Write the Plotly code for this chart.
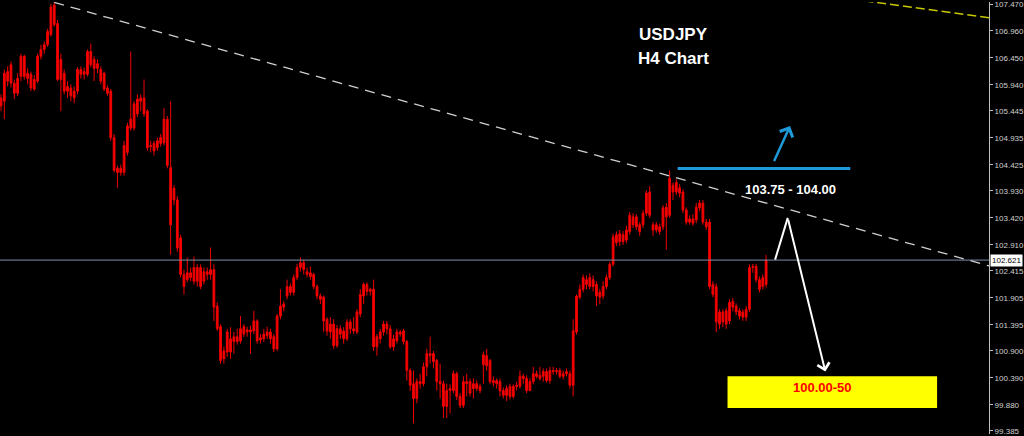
import plotly.graph_objects as go

# ---- candle data (USDJPY H4) ----
opens = [105.69, 105.63, 106.19, 105.97, 105.97, 105.78, 106.10, 106.48, 106.16, 106.14,
         105.86, 106.01, 106.48, 106.61, 106.70, 106.89, 107.45, 107.10, 106.04, 106.16,
         105.91, 105.88, 105.82, 105.82, 106.23, 106.14, 106.14, 106.57, 106.25, 106.34,
         106.23, 106.16, 105.88, 105.82, 104.94, 104.36, 104.28, 104.28, 104.66, 105.12,
         105.12, 105.39, 105.69, 105.69, 105.44, 104.77, 104.83, 104.75, 104.83, 104.84,
         105.29, 104.37, 103.76, 103.76, 103.04, 102.35, 102.25, 102.38, 102.22, 102.48,
         102.12, 102.40, 102.35, 102.35, 102.44, 101.75, 101.36, 100.75, 100.88, 101.13,
         101.08, 101.17, 101.09, 101.36, 101.26, 101.30, 101.28, 101.47, 101.11, 101.13,
         101.19, 101.26, 101.17, 100.94, 101.56, 101.73, 101.94, 102.12, 102.01, 102.29,
         102.48, 102.57, 102.40, 102.38, 102.35, 102.12, 101.94, 101.92, 101.50, 101.26,
         101.41, 101.00, 101.32, 101.28, 101.13, 101.45, 101.28, 101.26, 101.60, 101.94,
         102.16, 102.03, 102.07, 100.98, 101.13, 101.26, 101.41, 101.32, 100.98, 101.09,
         101.26, 101.28, 101.08, 100.53, 100.28, 100.00, 100.32, 100.28, 100.60, 100.85,
         100.85, 100.72, 100.32, 100.28, 99.85, 100.15, 100.15, 100.47, 100.04, 99.87,
         100.32, 100.32, 100.19, 100.28, 100.23, 100.64, 100.81, 100.72, 100.34, 100.34,
         100.32, 100.15, 100.06, 100.23, 100.04, 100.23, 100.23, 100.42, 100.38, 100.15,
         100.32, 100.47, 100.38, 100.42, 100.51, 100.34, 100.53, 100.51, 100.53, 100.42,
         100.47, 100.47, 100.25, 101.26, 101.92, 102.07, 102.25, 102.12, 102.25, 102.16,
         101.92, 101.94, 102.12, 102.29, 102.54, 103.10, 102.97, 103.10, 103.00, 103.16,
         103.44, 103.25, 103.29, 103.29, 103.51, 103.91, 103.29, 103.19, 103.25, 103.25,
         103.62, 103.47, 104.04, 103.91, 103.99, 103.91, 103.57, 103.34, 103.40, 103.38,
         103.61, 103.70, 103.34, 103.34, 102.16, 102.12, 101.41, 101.64, 101.41, 101.47,
         101.84, 101.75, 101.66, 101.54, 101.54, 101.69, 102.48, 102.50, 102.25, 102.12,
         102.16]
highs = [105.76, 106.23, 106.29, 106.38, 106.04, 106.16, 106.53, 106.51, 106.25, 106.19,
         106.12, 106.53, 106.70, 106.76, 107.00, 107.47, 107.51, 107.17, 106.53, 106.23,
         106.01, 105.95, 105.91, 106.27, 106.29, 106.27, 106.61, 106.72, 106.48, 106.42,
         106.29, 106.19, 105.93, 105.86, 105.01, 104.41, 104.43, 104.88, 105.22, 106.57,
         105.63, 105.76, 105.76, 106.04, 105.48, 104.88, 104.88, 104.94, 105.01, 105.50,
         105.35, 105.63, 104.04, 103.83, 103.10, 102.44, 102.67, 102.48, 102.69, 102.54,
         102.54, 102.48, 102.48, 102.86, 102.54, 101.82, 101.41, 100.98, 101.32, 101.35,
         101.26, 101.32, 101.56, 101.41, 101.36, 101.38, 101.66, 101.50, 101.22, 101.32,
         101.36, 101.32, 101.22, 101.60, 102.07, 101.84, 102.25, 102.18, 102.35, 102.55,
         102.67, 102.63, 102.48, 102.50, 102.38, 102.16, 101.99, 101.95, 101.54, 101.54,
         101.50, 101.39, 101.39, 101.35, 101.50, 101.50, 101.54, 101.69, 102.07, 102.20,
         102.20, 102.10, 102.25, 101.22, 101.32, 101.47, 101.47, 101.39, 101.21, 101.32,
         101.30, 101.32, 101.11, 100.57, 100.53, 100.38, 100.47, 100.68, 100.94, 101.17,
         100.90, 100.75, 100.66, 100.34, 100.28, 100.27, 100.53, 100.51, 100.10, 100.42,
         100.47, 100.38, 100.38, 100.34, 100.28, 100.89, 100.94, 100.75, 100.42, 100.38,
         100.38, 100.21, 100.25, 100.28, 100.27, 100.32, 100.53, 100.47, 100.44, 100.38,
         100.60, 100.53, 100.60, 100.57, 100.57, 100.60, 100.60, 100.58, 100.58, 100.53,
         100.57, 100.53, 101.50, 101.97, 102.16, 102.35, 102.33, 102.37, 102.33, 102.22,
         102.07, 102.22, 102.35, 102.59, 103.12, 103.16, 103.19, 103.17, 103.27, 103.53,
         103.51, 103.49, 103.34, 103.57, 103.94, 104.02, 103.34, 103.34, 103.31, 103.66,
         103.70, 104.32, 104.09, 104.15, 104.06, 103.96, 103.62, 103.47, 103.49, 103.70,
         103.76, 103.76, 103.40, 103.40, 102.22, 102.18, 101.69, 101.69, 101.71, 101.88,
         101.90, 101.80, 101.71, 101.69, 101.75, 102.54, 102.55, 102.55, 102.31, 102.35,
         102.72]
lows = [105.44, 105.29, 105.91, 105.89, 105.67, 105.73, 106.01, 106.04, 105.95, 105.82,
        105.82, 105.97, 106.42, 106.53, 106.66, 106.85, 107.04, 106.01, 105.44, 105.76,
        105.69, 105.63, 105.59, 105.76, 106.06, 106.04, 106.10, 106.27, 106.01, 106.16,
        105.95, 105.82, 105.73, 104.88, 104.28, 103.99, 104.22, 104.22, 104.60, 105.07,
        105.07, 105.33, 105.44, 105.33, 104.69, 104.66, 104.60, 104.69, 104.77, 104.79,
        104.36, 102.72, 103.66, 102.78, 102.29, 101.97, 102.20, 102.22, 102.16, 102.12,
        102.07, 102.16, 102.25, 102.25, 101.47, 101.28, 100.66, 100.66, 100.79, 100.75,
        100.85, 101.02, 101.04, 101.17, 101.17, 100.85, 101.22, 101.04, 101.04, 101.07,
        101.13, 101.04, 100.88, 100.90, 101.50, 101.65, 101.88, 101.95, 101.95, 102.24,
        102.40, 102.35, 102.29, 102.25, 102.07, 101.88, 101.79, 101.26, 101.19, 101.13,
        100.94, 100.96, 101.13, 101.04, 101.09, 101.22, 101.22, 101.22, 101.54, 101.79,
        101.95, 101.95, 100.90, 100.81, 101.04, 101.19, 101.22, 100.94, 100.90, 101.04,
        101.17, 101.02, 100.34, 100.14, 99.53, 99.91, 100.19, 100.23, 100.42, 100.66,
        100.57, 100.15, 100.00, 99.63, 99.63, 99.72, 100.10, 99.97, 99.82, 99.82,
        100.04, 100.04, 100.00, 100.14, 100.10, 100.28, 100.53, 100.27, 100.23, 100.19,
        100.04, 100.00, 99.95, 99.98, 100.00, 100.15, 100.19, 100.28, 100.10, 100.14,
        100.27, 100.38, 100.34, 100.32, 100.30, 100.28, 100.45, 100.45, 100.38, 100.36,
        100.42, 100.19, 100.04, 101.21, 101.88, 102.01, 102.07, 102.07, 102.03, 101.75,
        101.79, 101.88, 102.07, 102.24, 102.50, 102.89, 102.89, 102.91, 102.94, 103.10,
        103.23, 103.19, 103.08, 103.23, 103.46, 103.42, 103.08, 103.14, 103.10, 103.19,
        102.82, 103.42, 103.76, 103.85, 103.81, 103.51, 103.29, 103.29, 103.27, 103.32,
        103.55, 103.29, 103.19, 102.07, 101.92, 101.26, 101.32, 101.35, 101.32, 101.41,
        101.65, 101.58, 101.50, 101.47, 101.47, 101.64, 102.38, 102.20, 102.01, 102.07,
        102.10]
closes = [105.54, 106.16, 106.01, 106.32, 105.78, 106.06, 106.48, 106.10, 106.06, 105.88,
          106.04, 106.48, 106.61, 106.70, 106.95, 107.41, 107.08, 106.04, 106.42, 105.82,
          105.82, 105.73, 105.69, 106.23, 106.14, 106.19, 106.57, 106.32, 106.42, 106.25,
          106.01, 105.86, 105.78, 104.94, 104.32, 104.28, 104.36, 104.79, 105.16, 105.29,
          105.58, 105.67, 105.63, 105.39, 104.75, 104.79, 104.69, 104.88, 104.94, 105.29,
          104.41, 103.29, 103.98, 102.85, 102.35, 102.12, 102.38, 102.29, 102.48, 102.22,
          102.48, 102.22, 102.40, 102.44, 101.73, 101.32, 100.72, 100.90, 101.26, 100.88,
          101.17, 101.08, 101.32, 101.22, 101.30, 101.26, 101.47, 101.09, 101.15, 101.22,
          101.26, 101.13, 100.94, 101.56, 101.75, 101.79, 102.12, 102.01, 102.29, 102.48,
          102.57, 102.44, 102.35, 102.31, 102.12, 101.94, 101.88, 101.47, 101.28, 101.41,
          101.00, 101.32, 101.22, 101.13, 101.45, 101.32, 101.32, 101.64, 101.97, 102.16,
          102.03, 102.07, 100.98, 101.17, 101.26, 101.41, 101.32, 100.98, 101.13, 101.26,
          101.22, 101.08, 100.53, 100.25, 100.00, 100.32, 100.28, 100.60, 100.85, 100.81,
          100.70, 100.32, 100.28, 99.85, 100.15, 100.19, 100.47, 100.04, 99.87, 100.32,
          100.28, 100.10, 100.28, 100.19, 100.15, 100.83, 100.62, 100.32, 100.30, 100.28,
          100.14, 100.06, 100.19, 100.04, 100.23, 100.25, 100.42, 100.38, 100.15, 100.32,
          100.47, 100.42, 100.44, 100.51, 100.34, 100.53, 100.51, 100.53, 100.42, 100.47,
          100.51, 100.25, 101.28, 101.94, 102.07, 102.29, 102.16, 102.29, 102.12, 101.94,
          102.01, 102.12, 102.29, 102.54, 103.06, 102.95, 103.12, 102.97, 103.19, 103.47,
          103.29, 103.44, 103.16, 103.51, 103.89, 103.47, 103.19, 103.29, 103.16, 103.61,
          103.44, 104.17, 103.91, 104.09, 103.89, 103.57, 103.34, 103.40, 103.32, 103.62,
          103.70, 103.34, 103.25, 102.12, 101.97, 101.45, 101.64, 101.45, 101.66, 101.82,
          101.73, 101.64, 101.56, 101.64, 101.69, 102.48, 102.50, 102.25, 102.07, 102.29,
          102.62]
bar_index = list(range(len(closes)))

# price axis labels as printed by the terminal
tick_vals = [107.470, 106.960, 106.450, 105.940, 105.445, 104.935, 104.425, 103.930,
             103.420, 102.910, 102.415, 101.905, 101.395, 100.900, 100.390, 99.880, 99.385]
current_price = 102.621

# drawings (bar index, price)
trend_x = [16, 297.0]
trend_y = [107.50, 102.51]
yellow_x = [259.5, 297.0]
yellow_y = [107.53, 107.21]
resist_x = [203.4, 255.3]
resist_y = [104.356, 104.356]
blue_tail = (232.2, 104.47)
blue_tip = (237.2, 105.16)
white_path_x = [232.7, 236.5]
white_path_y = [102.63, 103.42]
white_tip = (247.8, 100.51)
target_x = [218.4, 281.4]
target_y = [99.82, 100.42]

X_RANGE = [-0.3, 297.0]
Y_RANGE = [99.328, 107.508]

fig = go.Figure()

fig.add_trace(go.Candlestick(
    x=bar_index, open=opens, high=highs, low=lows, close=closes,
    increasing=dict(line=dict(color="#f00000", width=1), fillcolor="#ff0000"),
    decreasing=dict(line=dict(color="#f00000", width=1), fillcolor="#ff0000"),
    showlegend=False, hoverinfo="skip"))

# current price line
fig.add_trace(go.Scatter(x=X_RANGE, y=[current_price, current_price], mode="lines",
                         line=dict(color="#8090a8", width=1), showlegend=False, hoverinfo="skip"))
# trend lines
fig.add_trace(go.Scatter(x=trend_x, y=trend_y, mode="lines",
                         line=dict(color="#d0d0d0", width=1.3, dash="10px,7px"),
                         showlegend=False, hoverinfo="skip"))
fig.add_trace(go.Scatter(x=yellow_x, y=yellow_y, mode="lines",
                         line=dict(color="#c8c800", width=1.5, dash="9px,4px"),
                         showlegend=False, hoverinfo="skip"))
# resistance zone line
fig.add_trace(go.Scatter(x=resist_x, y=resist_y, mode="lines",
                         line=dict(color="#1e9ad8", width=3), showlegend=False, hoverinfo="skip"))
# white path first leg
fig.add_trace(go.Scatter(x=white_path_x, y=white_path_y, mode="lines",
                         line=dict(color="#ffffff", width=2), showlegend=False, hoverinfo="skip"))

fig.add_shape(type="rect", x0=target_x[0], x1=target_x[1], y0=target_y[0], y1=target_y[1],
              xref="x", yref="y", fillcolor="#ffff00", line=dict(width=0), layer="above")

FONT = "Liberation Sans, Arial"
annots = [
    dict(x=blue_tip[0], y=blue_tip[1], ax=blue_tail[0], ay=blue_tail[1], xref="x", yref="y",
         axref="x", ayref="y", text="", showarrow=True, arrowhead=4, arrowsize=1.1,
         arrowwidth=2.5, arrowcolor="#1e9ad8", standoff=0),
    dict(x=white_tip[0], y=white_tip[1], ax=white_path_x[1], ay=white_path_y[1], xref="x", yref="y",
         axref="x", ayref="y", text="", showarrow=True, arrowhead=4, arrowsize=1.2,
         arrowwidth=2, arrowcolor="#ffffff", standoff=0),
    dict(x=0.681, y=0.924, xref="paper", yref="paper", xanchor="center", yanchor="middle",
         text="<b>USDJPY</b>", showarrow=False, font=dict(family=FONT, size=17, color="#ffffff")),
    dict(x=0.681, y=0.869, xref="paper", yref="paper", xanchor="center", yanchor="middle",
         text="<b>H4 Chart</b>", showarrow=False, font=dict(family=FONT, size=17, color="#ffffff")),
    dict(x=0.7997, y=0.5665, xref="paper", yref="paper", xanchor="center", yanchor="middle",
         text="<b>103.75 - 104.00</b>", showarrow=False, font=dict(family=FONT, size=13, color="#ffffff")),
    dict(x=0.8315, y=0.1085, xref="paper", yref="paper", xanchor="center", yanchor="middle",
         text="<b>100.00-50</b>", showarrow=False, font=dict(family=FONT, size=13, color="#ff0000")),
    dict(x=1, y=current_price, xref="paper", yref="y", xanchor="left", yanchor="middle", text="102.621",
         showarrow=False, bgcolor="#ffffff", borderpad=1, xshift=1,
         font=dict(family=FONT, size=8, color="#000000")),
]

fig.update_layout(
    width=1024, height=436,
    margin=dict(l=0, r=33, t=0, b=0),
    paper_bgcolor="#000000", plot_bgcolor="#000000",
    boxgap=0.25,
    annotations=annots,
    xaxis=dict(range=X_RANGE, visible=False, rangeslider=dict(visible=False), fixedrange=True),
    yaxis=dict(range=Y_RANGE, side="right", showgrid=False, zeroline=False,
               showline=True, linecolor="#c0c0c0", linewidth=1,
               ticks="outside", ticklen=3, tickcolor="#c0c0c0",
               tickvals=tick_vals, tickformat=".3f", ticklabeloverflow="allow",
               tickfont=dict(family=FONT, size=8, color="#d0d0d0")),
    showlegend=False,
)

fig.write_html("out.html", config={"displayModeBar": False},
               post_script="document.body.style.margin='0px';document.body.style.overflow='hidden';")
